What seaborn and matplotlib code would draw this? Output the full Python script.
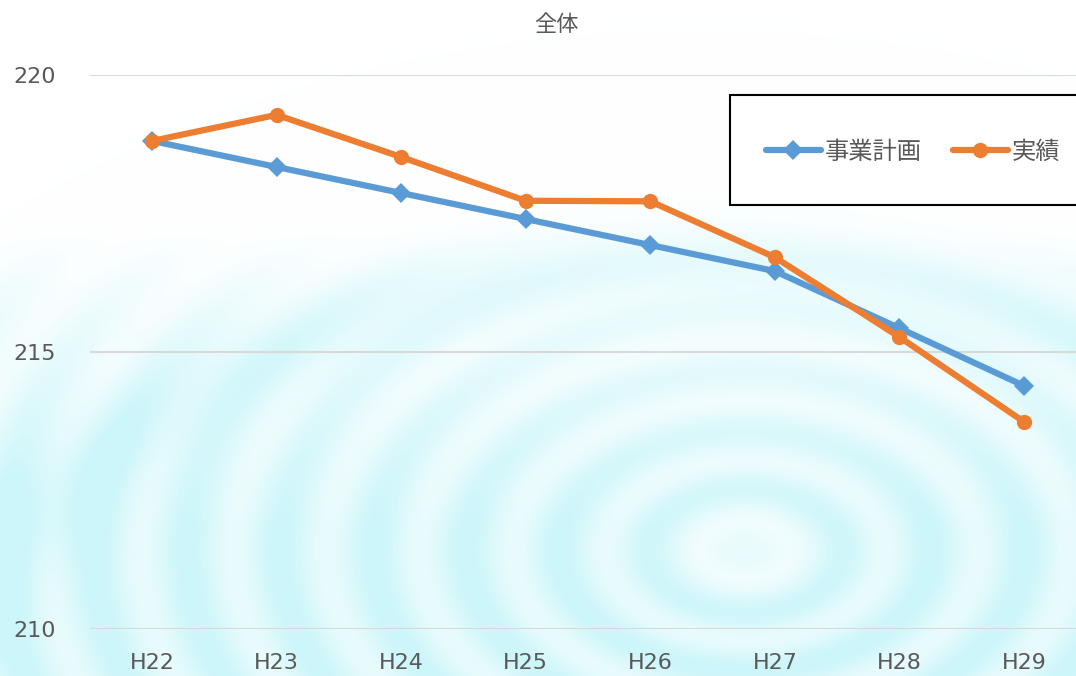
# 全体: 事業計画 vs 実績 (H22-H29)

import numpy as np
import pandas as pd
import matplotlib
matplotlib.use("Agg")
import matplotlib.pyplot as plt
import seaborn as sns
from matplotlib.patches import Rectangle

# ---------- data ----------
years = ["H22", "H23", "H24", "H25", "H26", "H27", "H28", "H29"]
plan = [218.81, 218.34, 217.87, 217.40, 216.93, 216.46, 215.43, 214.39]
actual = [218.81, 219.28, 218.52, 217.73, 217.72, 216.71, 215.27, 213.74]

blue = "#5B9BD5"
orange = "#ED7D31"
grey = "#595959"

sns.set_theme(style="white")
plt.rcParams["font.family"] = ["DejaVu Sans", "Noto Sans CJK JP"]

fig = plt.figure(figsize=(10.76, 6.76), dpi=100)

# ---------- watery background (decoration only) ----------
yy, xx = np.mgrid[0:676, 0:1076]
r1 = np.sqrt(((xx - 745) / 1.55) ** 2 + (yy - 550) ** 2)
ripple = 0.72 + 0.28 * np.cos(2 * np.pi * r1 / 60)
env = np.clip((yy - 230) / 300.0, 0, 1) ** 0.8
core = np.clip(r1 / 70.0, 0, 1)
# big faint arc in the upper half
r2 = np.sqrt(((xx - 700) / 1.3) ** 2 + (yy - 900) ** 2)
arc = np.exp(-((r2 - 640) / 40.0) ** 2) * 0.35
s = np.clip(env * ripple * (0.4 + 0.6 * core) + arc, 0, 1)
cyan = np.array([0.80, 0.965, 0.98])
img = 1 - s[..., None] * (1 - cyan)
bg = fig.add_axes([0, 0, 1, 1], zorder=-1)
bg.imshow(img, aspect="auto")
bg.axis("off")

# ---------- main axes ----------
ax = fig.add_axes([89.7 / 1076, 47 / 676, 996.6 / 1076, 554 / 676])
ax.set_facecolor("none")

df = pd.DataFrame({"year": years, "plan": plan, "actual": actual})

sns.lineplot(data=df, x="year", y="plan", ax=ax, color=blue, linewidth=4.5,
             marker="D", markersize=10, markeredgewidth=0, label="事業計画",
             sort=False, legend=False)
sns.lineplot(data=df, x="year", y="actual", ax=ax, color=orange, linewidth=4.5,
             marker="o", markersize=11, markeredgewidth=0, label="実績",
             sort=False, legend=False)

ax.set_xlim(-0.5, 7.5)
ax.set_ylim(210, 220)
ax.set_yticks([210, 215, 220])
ax.yaxis.grid(True, color="#D9D9D9", linewidth=1.5)
ax.xaxis.grid(False)
for sp in ax.spines.values():
    sp.set_visible(False)
ax.set_xlabel("")
ax.set_ylabel("")
ax.tick_params(axis="y", labelsize=16, labelcolor=grey, pad=24, length=0)
ax.tick_params(axis="x", labelsize=16, labelcolor=grey, pad=17, length=0)

# ---------- title ----------
fig.text(556 / 1076, 1 - 25 / 676, "全体", ha="center", va="center",
         fontsize=16, color=grey)

# ---------- legend ----------
fig.patches.append(Rectangle((730 / 1076, 1 - 205 / 676), 400 / 1076, 110 / 676,
                             transform=fig.transFigure, facecolor="white",
                             edgecolor="black", linewidth=1.5, zorder=5))
handles, labels = ax.get_legend_handles_labels()
leg = fig.legend(handles, labels, loc="center left",
                 bbox_to_anchor=(766 / 1076, 1 - 152 / 676), ncol=2,
                 frameon=False, fontsize=17.5, handlelength=2.25,
                 columnspacing=1.3, handletextpad=0.15, borderpad=0,
                 borderaxespad=0, labelcolor=grey)
leg.set_zorder(6)

fig.savefig("out.png", dpi=100)
